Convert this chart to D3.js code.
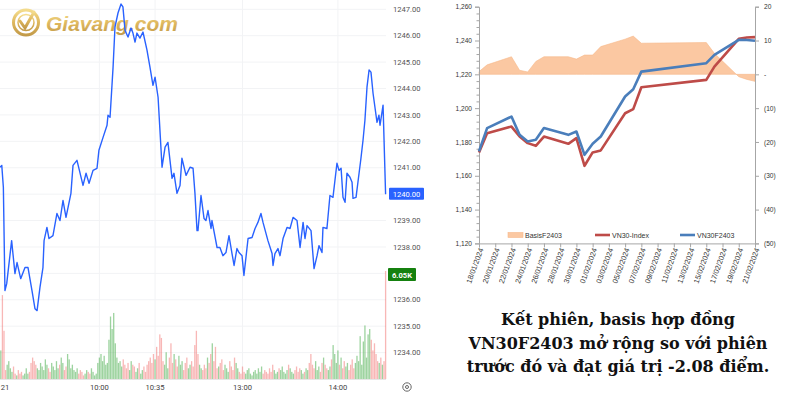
<!DOCTYPE html>
<html><head><meta charset="utf-8">
<script src="https://cdn.jsdelivr.net/npm/d3@7"></script>
<style>body{margin:0;background:#fff}svg{display:block}</style>
</head><body>
<svg id="c" width="800" height="400"></svg>
<script>
// ===== Left panel: intraday VN30F2403, session 21/02 =====
// [trading minute since 9:00 (lunch break removed), price]
const intradayPrices = [
[-2.5,1241.02],[-1.4,1241.09],[-0.4,1240.26],[0.6,1236.35],[1.7,1236.61],[4.8,1238.24],[6.9,1236.99],[8.2,1237.41],[10.5,1236.80],[13.2,1237.22],
[15.1,1237.22],[17.6,1236.35],[19.5,1235.66],[20.8,1235.59],[22.6,1236.46],[24.5,1237.22],[25.2,1238.24],[27.0,1238.74],[28.3,1238.32],[30.8,1238.43],
[33.3,1239.27],[35.2,1239.00],[37.1,1239.76],[39.0,1239.12],[42.1,1240.03],[43.4,1241.09],[45.9,1241.28],[49.7,1240.33],[51.6,1240.79],[53.5,1240.41],
[56.0,1240.90],[58.5,1240.98],[59.7,1241.66],[62.3,1242.15],[64.8,1242.61],[65.4,1242.99],[66.7,1242.91],[68.6,1244.81],[69.8,1246.33],[71.7,1246.86],
[73.6,1247.20],[74.8,1247.09],[76.1,1246.21],[78.0,1245.95],[79.9,1246.29],[81.1,1246.10],[82.4,1245.76],[83.6,1246.10],[85.5,1245.91],[87.4,1246.14],
[89.9,1245.46],[91.8,1244.81],[93.7,1244.12],[95.0,1244.43],[96.9,1243.67],[99.4,1241.02],[101.3,1241.78],[103.1,1241.96],[105.7,1240.60],[106.9,1240.79],
[108.8,1240.03],[110.7,1240.33],[111.9,1241.36],[114.5,1240.71],[117.0,1241.02],[118.9,1240.98],[120.1,1240.03],[121.4,1238.62],[122.0,1238.62],[123.9,1239.95],
[125.8,1239.08],[127.0,1239.00],[128.3,1239.38],[130.2,1238.70],[130.8,1239.00],[134.0,1237.98],[135.8,1237.98],[137.7,1237.67],[139.6,1237.79],[141.5,1238.43],
[143.4,1237.75],[144.7,1237.30],[146.5,1237.94],[147.8,1237.79],[149.7,1237.67],[150.9,1236.92],[153.5,1238.32],[156.0,1238.36],[157.9,1238.70],[159.7,1238.93],
[161.6,1239.27],[162.9,1238.93],[166.0,1238.24],[168.6,1237.75],[169.2,1237.30],[170.4,1237.75],[172.3,1237.94],[173.6,1237.67],[175.5,1238.32],[178.0,1238.74],
[179.9,1238.70],[181.8,1239.12],[184.3,1239.00],[186.2,1237.98],[188.1,1238.93],[189.3,1238.32],[190.6,1238.81],[193.1,1238.62],[195.0,1237.18],[196.9,1237.67],
[198.1,1238.05],[200.0,1237.79],[200.6,1238.74],[203.1,1238.70],[205.0,1239.95],[206.9,1239.88],[209.4,1241.17],[210.7,1240.90],[212.0,1240.98],[213.2,1239.88],
[214.5,1239.69],[215.7,1240.79],[217.6,1240.64],[218.9,1240.45],[219.5,1239.84],[221.4,1239.88],[222.6,1240.45],[224.5,1241.36],[225.8,1242.04],[227.0,1242.80],
[228.3,1244.05],[229.6,1244.70],[230.8,1244.62],[232.1,1243.82],[233.3,1243.29],[234.6,1242.72],[235.8,1242.99],[236.5,1242.61],[238.4,1243.37],[240,1240.00]
];
// per-minute volume (hundreds of contracts), from minute -2 to 240
const volumeStart = -2;
const volumes = [16,47,27,
5,8,10,6,4,7,3,2,5,3,4,2,3,6,3,4,9,12,10,8,
6,5,9,7,5,11,8,6,4,9,7,5,10,6,8,12,9,5,7,14,11,6,8,5,4,
6,3,5,4,2,3,5,4,3,6,4,2,3,9,12,14,10,
13,8,9,22,35,28,37,20,
12,9,10,7,11,8,6,9,5,10,8,7,4,6,9,3,5,7,4,8,10,12,9,14,11,
18,13,25,23,10,8,15,6,12,
20,9,14,11,7,13,8,10,5,9,12,6,8,10,7,19,27,14,8,6,5,
8,6,12,9,14,20,10,18,6,7,9,11,5,8,6,4,10,7,5,12,9,6,4,3,7,
4,3,5,6,3,2,4,5,3,6,4,7,3,5,4,3,6,4,8,5,3,4,6,5,7,4,3,5,8,6,4,3,5,7,4,6,5,3,4,6,
5,9,14,8,6,10,5,7,4,9,12,8,6,5,7,
11,19,14,9,16,8,12,6,10,7,9,5,8,11,6,
9,13,10,24,8,21,30,12,25,28,22,16,20,14,10,9,12,8,10,
60.5];
// price scale labels (1237.00 is hidden behind the volume tag in the reference)
const priceTicks = [1247,1246,1245,1244,1243,1242,1241,1240,1239,1238,1237,1236,1235,1234];
const hiddenPriceTick = 1237;
const timeTickMinutes = [0,60,95,150,210];
const timeTickLabels = ["21","10:00","10:35","13:00","14:00"];
const lastPriceText = "1240.00";
const lastVolumeText = "6.05K";
const watermarkText = "Giavang.com";

// ===== Right panel: daily VN30F2403 vs VN30-Index =====
const tradingDates = ["2024-01-18","2024-01-19","2024-01-22","2024-01-23","2024-01-24","2024-01-25","2024-01-26","2024-01-29","2024-01-30","2024-01-31",
"2024-02-01","2024-02-02","2024-02-05","2024-02-06","2024-02-07","2024-02-15","2024-02-16","2024-02-19","2024-02-20","2024-02-21"];
const vn30f2403 = [1174.4,1188.2,1195.0,1184.2,1180.3,1181.3,1188.2,1184.2,1186.2,1172.4,1178.9,1183.2,1206.9,1211.2,1221.6,1226.6,1231.5,1240.4,1240.3,1239.9];
const vn30Index = [1173.8,1185.2,1189.1,1183.2,1179.3,1177.7,1183.2,1178.9,1182.3,1165.9,1173.8,1175.0,1197.0,1199.4,1212.4,1216.7,1224.6,1241.0,1241.8,1242.0];
const basisF2403 = [0.8,2.8,5.2,1.2,0.7,3.8,5.2,5.2,4.5,5.7,5.7,8.2,10.4,11.3,9.2,9.4,6.2,-0.7,-1.5,-2.08];
const dateTickLabels = ["18/01/2024","20/01/2024","22/01/2024","24/01/2024","26/01/2024","28/01/2024","30/01/2024","01/02/2024","03/02/2024",
"05/02/2024","07/02/2024","09/02/2024","11/02/2024","13/02/2024","15/02/2024","17/02/2024","19/02/2024","21/02/2024"];
const leftAxisTicks = [1120,1140,1160,1180,1200,1220,1240,1260];
const rightAxisTicks = [-50,-40,-30,-20,-10,0,10,20];
const seriesNames = ["BasisF2403","VN30-Index","VN30F2403"];
const captionLines = ["Kết phiên, basis hợp đồng","VN30F2403 mở rộng so với phiên","trước đó và đạt giá trị -2.08 điểm."];

const svg = d3.select("#c");
const F = "Roboto, 'Liberation Sans', Arial, sans-serif";
const A = "'Liberation Sans', Arial, sans-serif";

// ---------- LEFT ----------
const L = svg.append("g");
const x = d3.scaleLinear().domain([0,240]).range([4,385.6]);
const y = d3.scaleLinear().domain([1234,1247]).range([352.6,9.3]);
const vy = d3.scaleLinear().domain([0,60.5]).range([379,271]);

L.append("defs").append("clipPath").attr("id","lc").append("rect")
 .attr("x",0).attr("y",0).attr("width",388).attr("height",380);

// grid
L.selectAll("line.hg").data(priceTicks).join("line")
 .attr("x1",0).attr("x2",386).attr("y1",d=>y(d)).attr("y2",d=>y(d))
 .attr("stroke","#f2f3f5").attr("stroke-width",1);
L.selectAll("line.vg").data(timeTickMinutes.slice(1)).join("line")
 .attr("x1",d=>x(d)).attr("x2",d=>x(d)).attr("y1",0).attr("y2",379)
 .attr("stroke","#f2f3f5").attr("stroke-width",1);
L.append("line").attr("x1",0).attr("x2",386).attr("y1",379.5).attr("y2",379.5).attr("stroke","#e6e6e6");

// watermark
const gold = L.append("defs").append("linearGradient").attr("id","gold").attr("x1","0").attr("y1","0").attr("x2","0").attr("y2","1");
gold.append("stop").attr("offset","0").attr("stop-color","#f3d77a");
gold.append("stop").attr("offset","0.5").attr("stop-color","#d9ab42");
gold.append("stop").attr("offset","1").attr("stop-color","#b98a2a");
const wm = L.append("g").attr("opacity",0.85);
wm.append("circle").attr("cx",26).attr("cy",22.5).attr("r",12.5).attr("fill","none").attr("stroke","url(#gold)").attr("stroke-width",3);
wm.append("circle").attr("cx",26).attr("cy",22.5).attr("r",8).attr("fill","none").attr("stroke","url(#gold)").attr("stroke-width",1.5);
wm.append("path").attr("d","M20,21 L25,28 L34,12").attr("fill","none").attr("stroke","url(#gold)").attr("stroke-width",3).attr("stroke-linecap","round");
wm.append("text").attr("x",46).attr("y",31).text(watermarkText)
 .attr("font-family",A).attr("font-weight","bold").attr("font-style","italic").attr("font-size",21).attr("fill","url(#gold)");

// volume bars
const interp = t => {
  for (let i=1;i<intradayPrices.length;i++){
    const [t0,p0]=intradayPrices[i-1],[t1,p1]=intradayPrices[i];
    if (t<=t1) return p0+(p1-p0)*(t-t0)/(t1-t0);
  }
  return intradayPrices[intradayPrices.length-1][1];
};
L.append("g").attr("clip-path","url(#lc)").selectAll("rect").data(volumes).join("rect")
 .attr("x",(d,i)=>x(volumeStart+i)-0.65).attr("width",1.3)
 .attr("y",d=>vy(d)).attr("height",d=>vy(0)-vy(d))
 .attr("fill",(d,i)=>{const t=volumeStart+i; return interp(t)>=interp(t-1)?"rgba(76,175,80,0.55)":"rgba(239,83,80,0.42)";});

// price line
L.append("path").attr("clip-path","url(#lc)").datum(intradayPrices)
 .attr("d",d3.line().x(d=>x(d[0])).y(d=>y(d[1])))
 .attr("fill","none").attr("stroke","#2962ff").attr("stroke-width",1.4).attr("stroke-linejoin","round");

// price axis labels
L.selectAll("text.pl").data(priceTicks.filter(d=>d!==hiddenPriceTick)).join("text")
 .attr("x",393).attr("y",d=>y(d)+2.7).text(d=>d.toFixed(2))
 .attr("font-family",F).attr("font-size",7.6).attr("fill","#555");
// last price tag
const lp = intradayPrices[intradayPrices.length-1][1];
L.append("rect").attr("x",389).attr("y",y(lp)-6.5).attr("width",35).attr("height",12).attr("fill","#2962ff").attr("rx",1);
L.append("text").attr("x",406.5).attr("y",y(lp)+2.8).attr("text-anchor","middle").text(lastPriceText)
 .attr("font-family",F).attr("font-size",7.6).attr("fill","#fff");
// last volume tag
const lv = volumes[volumes.length-1];
L.append("rect").attr("x",388).attr("y",vy(lv)-3).attr("width",28).attr("height",13).attr("fill","#15810f").attr("rx",1);
L.append("text").attr("x",402).attr("y",vy(lv)+6.5).attr("text-anchor","middle").text(lastVolumeText)
 .attr("font-family",F).attr("font-size",7.6).attr("font-weight","bold").attr("fill","#fff");
// time labels
L.selectAll("text.tl").data(timeTickMinutes).join("text")
 .attr("x",d=>x(d)+(d===0?1:0)).attr("y",390).attr("text-anchor","middle").text((d,i)=>timeTickLabels[i])
 .attr("font-family",F).attr("font-size",7.6).attr("fill","#444");
// settings icon
L.append("circle").attr("cx",407).attr("cy",387).attr("r",4.2).attr("fill","none").attr("stroke","#666").attr("stroke-width",1);
L.append("circle").attr("cx",407).attr("cy",387).attr("r",1.5).attr("fill","none").attr("stroke","#666").attr("stroke-width",1);

// ---------- RIGHT ----------
const R = svg.append("g");
const parse = d3.timeParse("%Y-%m-%d");
const dates = tradingDates.map(parse);
const xr = d3.scaleTime().domain([parse("2024-01-18"),parse("2024-02-21")]).range([479,755]);
const yl = d3.scaleLinear().domain([1120,1260]).range([243.4,6.7]);
const yr = d3.scaleLinear().domain([-50,20]).range([243.4,6.7]);

// basis area
R.append("path").datum(basisF2403)
 .attr("d",d3.area().x((d,i)=>xr(dates[i])).y0(yr(0)).y1(d=>yr(d)))
 .attr("fill","#fbc8a2").attr("stroke","#f7b88a").attr("stroke-width",0.6);

// axes
const axisColor = "#a6a6a6";
const gl = R.append("g").attr("transform","translate(479,0)")
 .call(d3.axisLeft(yl).tickValues(leftAxisTicks).tickFormat(d3.format(",")).tickSize(4).tickPadding(3));
const gmin = R.append("g").attr("transform","translate(479,0)")
 .call(d3.axisLeft(yl).tickValues(d3.range(1124,1260,4).filter(v=>v%20!==0)).tickFormat("").tickSize(2.5));
gmin.select(".domain").remove();
const rightFmt = d => d===0 ? "-" : d<0 ? "("+Math.abs(d)+")" : String(d);
const gr = R.append("g").attr("transform","translate(755,0)")
 .call(d3.axisRight(yr).tickValues(rightAxisTicks).tickFormat(rightFmt).tickSize(4).tickPadding(5));
const gx = R.append("g").attr("transform","translate(0,243.4)")
 .call(d3.axisBottom(xr).tickValues(dateTickLabels.map(d3.timeParse("%d/%m/%Y"))).tickFormat(d3.timeFormat("%d/%m/%Y")).tickSize(4).tickPadding(2));
[gl,gmin,gr,gx].forEach(g=>{
  g.selectAll("path.domain").attr("stroke",axisColor);
  g.selectAll(".tick line").attr("stroke",axisColor);
  g.selectAll("text").attr("font-family",A).attr("font-size",6.6).attr("fill","#333");
});
gx.selectAll("text").attr("font-size",7.4).attr("text-anchor","end")
 .attr("transform","translate(2,5) rotate(-70)").attr("dy","0.3em").attr("y",0).attr("x",0);

// lines
const lineGen = arr => d3.line().x((d,i)=>xr(dates[i])).y(d=>yl(d))(arr);
R.append("path").attr("d",lineGen(vn30Index)).attr("fill","none").attr("stroke","#be4b48").attr("stroke-width",2.6).attr("stroke-linejoin","round");
R.append("path").attr("d",lineGen(vn30f2403)).attr("fill","none").attr("stroke","#4a7ebb").attr("stroke-width",2.6).attr("stroke-linejoin","round");

// legend
const lgY = 235;
const lg = R.append("g").attr("font-family",A).attr("font-size",7).attr("fill","#333");
lg.append("rect").attr("x",508).attr("y",lgY-2.5).attr("width",15).attr("height",5).attr("fill","#fbc8a2").attr("stroke","#f7b88a").attr("stroke-width",0.6);
lg.append("text").attr("x",525).attr("y",lgY+2.5).text(seriesNames[0]);
lg.append("line").attr("x1",595).attr("x2",610).attr("y1",lgY).attr("y2",lgY).attr("stroke","#be4b48").attr("stroke-width",2.6);
lg.append("text").attr("x",612).attr("y",lgY+2.5).text(seriesNames[1]);
lg.append("line").attr("x1",680).attr("x2",695).attr("y1",lgY).attr("y2",lgY).attr("stroke","#4a7ebb").attr("stroke-width",2.6);
lg.append("text").attr("x",697).attr("y",lgY+2.5).text(seriesNames[2]);

// caption
svg.append("g").selectAll("text").data(captionLines).join("text")
 .attr("x",618).attr("y",(d,i)=>325+i*23.5).attr("text-anchor","middle").text(d=>d)
 .attr("font-family","'DejaVu Serif', serif").attr("font-weight","bold").attr("font-size",16).attr("fill","#111");
</script>
</body></html>
